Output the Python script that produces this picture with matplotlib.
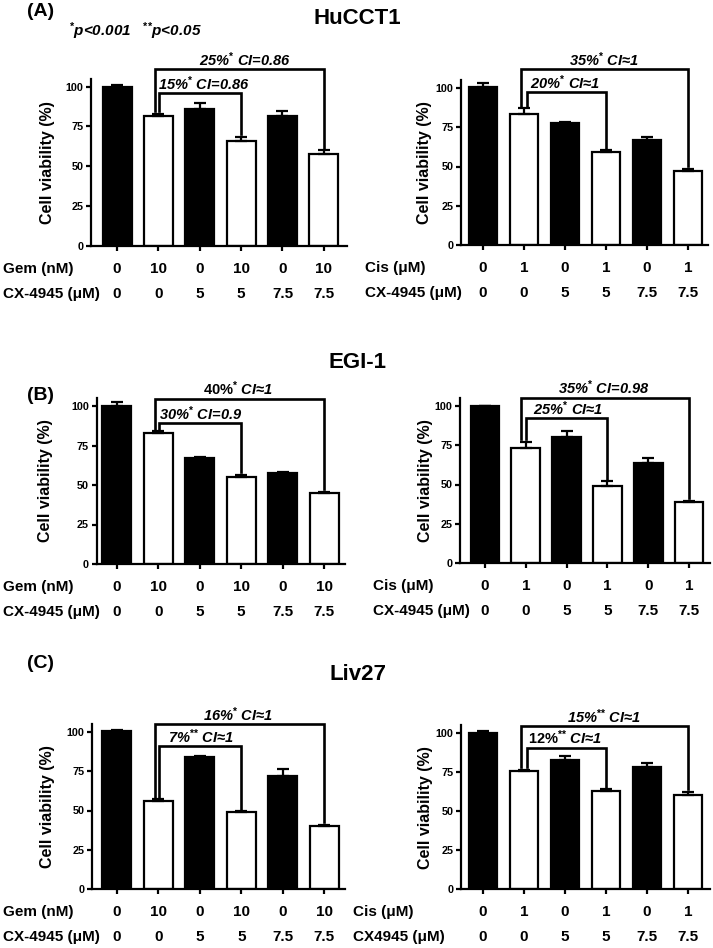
"""Cell viability bar panels (HuCCT1, EGI-1, Liv27): Gem / Cis combined with CX-4945."""

import matplotlib
matplotlib.use("Agg")  # no display, just write out.png

import matplotlib.pyplot as plt

plt.rcParams["font.family"] = ["Liberation Sans", "DejaVu Sans"]
plt.rcParams["font.weight"] = "bold"
plt.rcParams["mathtext.fontset"] = "custom"
plt.rcParams["mathtext.rm"] = "Liberation Sans:bold"
plt.rcParams["mathtext.it"] = "Liberation Sans:italic:bold"
plt.rcParams["mathtext.bf"] = "Liberation Sans:bold"

# ##########################################################################
# 1. Data
# ##########################################################################
gem_dose = ["0", "10", "0", "10", "0", "10"]
cis_dose = ["0", "1", "0", "1", "0", "1"]
cx_dose = ["0", "0", "5", "5", "7.5", "7.5"]
bar_fill = ["black", "white", "black", "white", "black", "white"]
y_ticks = [0, 25, 50, 75, 100]

hucct1_gem_mean = [100.0, 81.5, 85.7, 65.8, 81.5, 57.6]
hucct1_gem_err = [0.8, 1.5, 3.8, 2.7, 3.2, 2.6]
hucct1_cis_mean = [100.4, 83.4, 78.0, 59.1, 67.0, 47.2]
hucct1_cis_err = [2.6, 3.8, 0.5, 1.1, 1.5, 1.5]

egi1_gem_mean = [100.0, 82.7, 67.0, 55.0, 57.5, 44.8]
egi1_gem_err = [2.5, 1.5, 1.0, 1.6, 1.0, 0.9]
egi1_cis_mean = [100.0, 73.5, 80.0, 49.2, 64.0, 38.8]
egi1_cis_err = [0.3, 3.8, 4.0, 3.1, 2.7, 0.8]

liv27_gem_mean = [100.4, 56.0, 84.0, 48.8, 72.0, 40.2]
liv27_gem_err = [0.6, 1.3, 0.6, 0.9, 4.3, 0.8]
liv27_cis_mean = [100.0, 75.5, 83.0, 63.0, 77.9, 60.2]
liv27_cis_err = [1.0, 1.1, 2.5, 1.0, 3.0, 2.1]

# superscript significance marks
S1 = "$^{{*}}$"
S2 = "$^{{*}{*}}$"

# bracket annotations: (inner label, outer label)
hucct1_gem_notes = ["15%" + S1 + " CI=0.86", "25%" + S1 + " CI=0.86"]
hucct1_cis_notes = ["20%" + S1 + " CI≈1", "35%" + S1 + " CI≈1"]
egi1_gem_notes = ["30%" + S1 + " CI=0.9", "$\\mathrm{40\\%}^{{*}}$ CI≈1"]
egi1_cis_notes = ["25%" + S1 + " CI≈1", "35%" + S1 + " CI=0.98"]
liv27_gem_notes = ["7%" + S2 + " CI≈1", "16%" + S1 + " CI≈1"]
liv27_cis_notes = ["$\\mathrm{12\\%}^{{*}{*}}$ CI≈1", "15%" + S2 + " CI≈1"]

# ##########################################################################
# 2. Layout (pixels of the 713x948 canvas)
# ##########################################################################
W, H = 713, 948
fig = plt.figure(figsize=(W / 100, H / 100), dpi=100)

panels = [
    # px box: left, right, y of 0, y of 100 | xlim | ylabel gap | row-name x
    dict(box=(91, 347, 245.7, 86.7), xlim=(-0.63, 5.56), ylab=-36, name_x=3,
         mean=hucct1_gem_mean, err=hucct1_gem_err, notes=hucct1_gem_notes,
         drug="Gem (nM)", dose=gem_dose, cx="CX-4945 (μM)",
         br=[(1.02, 95.8, 0.99), (0.92, 110.9, 1.98)]),
    dict(box=(461, 708, 245, 88), xlim=(-0.54, 5.49), ylab=-29, name_x=365,
         mean=hucct1_cis_mean, err=hucct1_cis_err, notes=hucct1_cis_notes,
         drug="Cis (μM)", dose=cis_dose, cx="CX-4945 (μM)",
         br=[(1.08, 97.2, 1.15), (0.93, 112.0, 2.1)]),
    dict(box=(96.7, 345, 564, 406), xlim=(-0.48, 5.5), ylab=-44, name_x=3,
         mean=egi1_gem_mean, err=egi1_gem_err, notes=egi1_gem_notes,
         drug="Gem (nM)", dose=gem_dose, cx="CX-4945 (μM)",
         br=[(1.02, 89.0, 1.01), (0.92, 104.4, 2.08)]),
    dict(box=(460, 710, 563, 406), xlim=(-0.61, 5.51), ylab=-27, name_x=373,
         mean=egi1_cis_mean, err=egi1_cis_err, notes=egi1_cis_notes,
         drug="Cis (μM)", dose=cis_dose, cx="CX-4945 (μM)",
         br=[(1.0, 92.2, 1.18), (0.88, 105.3, 1.79)]),
    dict(box=(92, 345, 889, 732), xlim=(-0.6, 5.5), ylab=-37, name_x=3,
         mean=liv27_gem_mean, err=liv27_gem_err, notes=liv27_gem_notes,
         drug="Gem (nM)", dose=gem_dose, cx="CX-4945 (μM)",
         br=[(1.02, 90.9, 1.23), (0.92, 104.9, 2.08)]),
    dict(box=(461, 710, 889, 733), xlim=(-0.54, 5.54), ylab=-28, name_x=353,
         mean=liv27_cis_mean, err=liv27_cis_err, notes=liv27_cis_notes,
         drug="Cis (μM)", dose=cis_dose, cx="CX4945 (μM)",
         br=[(1.08, 90.6, 1.1), (0.93, 104.3, 2.05)]),
]

LW = 1.6
for p in panels:
    l, r, y0, y100 = p["box"]
    ppu = (y0 - y100) / 100.0          # pixels per % unit
    top = y0 - 105 * ppu
    ax = fig.add_axes([l / W, 1 - y0 / H, (r - l) / W, (y0 - top) / H])
    xs = list(range(len(p["mean"])))

    ax.bar(xs, p["mean"], width=0.7, color=bar_fill, edgecolor="black",
           linewidth=LW, zorder=2)
    ax.errorbar(xs, p["mean"], yerr=[[0] * len(xs), p["err"]], fmt="none",
                ecolor="black", elinewidth=LW, capsize=4.5, capthick=LW, zorder=3)

    ax.set_xlim(*p["xlim"])
    ax.set_ylim(0, 105)
    ax.set_yticks(y_ticks)
    ax.set_yticklabels([str(t) for t in y_ticks], fontsize=7.8, fontweight="bold")
    ax.set_xticks(xs)
    ax.set_xticklabels([])
    ax.tick_params(axis="both", length=3.5, width=LW, pad=2)
    for side in ("top", "right"):
        ax.spines[side].set_visible(False)
    for side in ("left", "bottom"):
        ax.spines[side].set_linewidth(LW)

    ax.set_ylabel("Cell viability (%)", fontsize=11.5, fontweight="bold")
    ax.yaxis.set_label_coords(p["ylab"] / (r - l), 0.5)

    # dose rows under the x axis
    h_px = y0 - top
    for row_i, (name, vals) in enumerate([(p["drug"], p["dose"]), (p["cx"], cx_dose)]):
        dy = 23 + 25 * row_i
        for x, v in zip(xs, vals):
            ax.text(x, -dy / h_px, v, transform=ax.get_xaxis_transform(),
                    ha="center", va="center", fontsize=11, fontweight="bold")
        fig.text(p["name_x"] / W, 1 - (y0 + dy) / H, name, ha="left", va="center",
                 fontsize=11, fontweight="bold")

    # combination brackets: bar 1 -> bar 3 (inner), bar 1 -> bar 5 (outer)
    for (x0, yb, tx), target, note in zip(p["br"], [3, 5], p["notes"]):
        leg0 = p["mean"][1] + p["err"][1] + 1.5
        leg1 = p["mean"][target] + p["err"][target] + 1.5
        ax.plot([x0, x0, target, target], [leg0, yb, yb, leg1], color="black",
                lw=LW + 0.3, clip_on=False, zorder=4, solid_joinstyle="miter")
        ax.text(tx, yb + 2.3, note, ha="left", va="baseline", fontsize=10.5,
                fontweight="bold", style="italic", clip_on=False)

# ##########################################################################
# 3. Panel letters, cell-line titles, significance key
# ##########################################################################
for letter, (lx, ly) in zip(["(A)", "(B)", "(C)"], [(27, 12), (27, 396), (27, 663)]):
    fig.text(lx / W, 1 - ly / H, letter, ha="left", va="center", fontsize=14,
             fontweight="bold")

for title, (tx, ty) in zip(["HuCCT1", "EGI-1", "Liv27"],
                           [(357, 18), (357, 362), (358, 675)]):
    fig.text(tx / W, 1 - ty / H, title, ha="center", va="center", fontsize=16,
             fontweight="bold")

fig.text(69 / W, 1 - 31 / H, S1 + "p<0.001   " + S2 + "p<0.05", ha="left",
         va="center", fontsize=11, fontweight="bold", style="italic")

fig.savefig("out.png", dpi=100)
